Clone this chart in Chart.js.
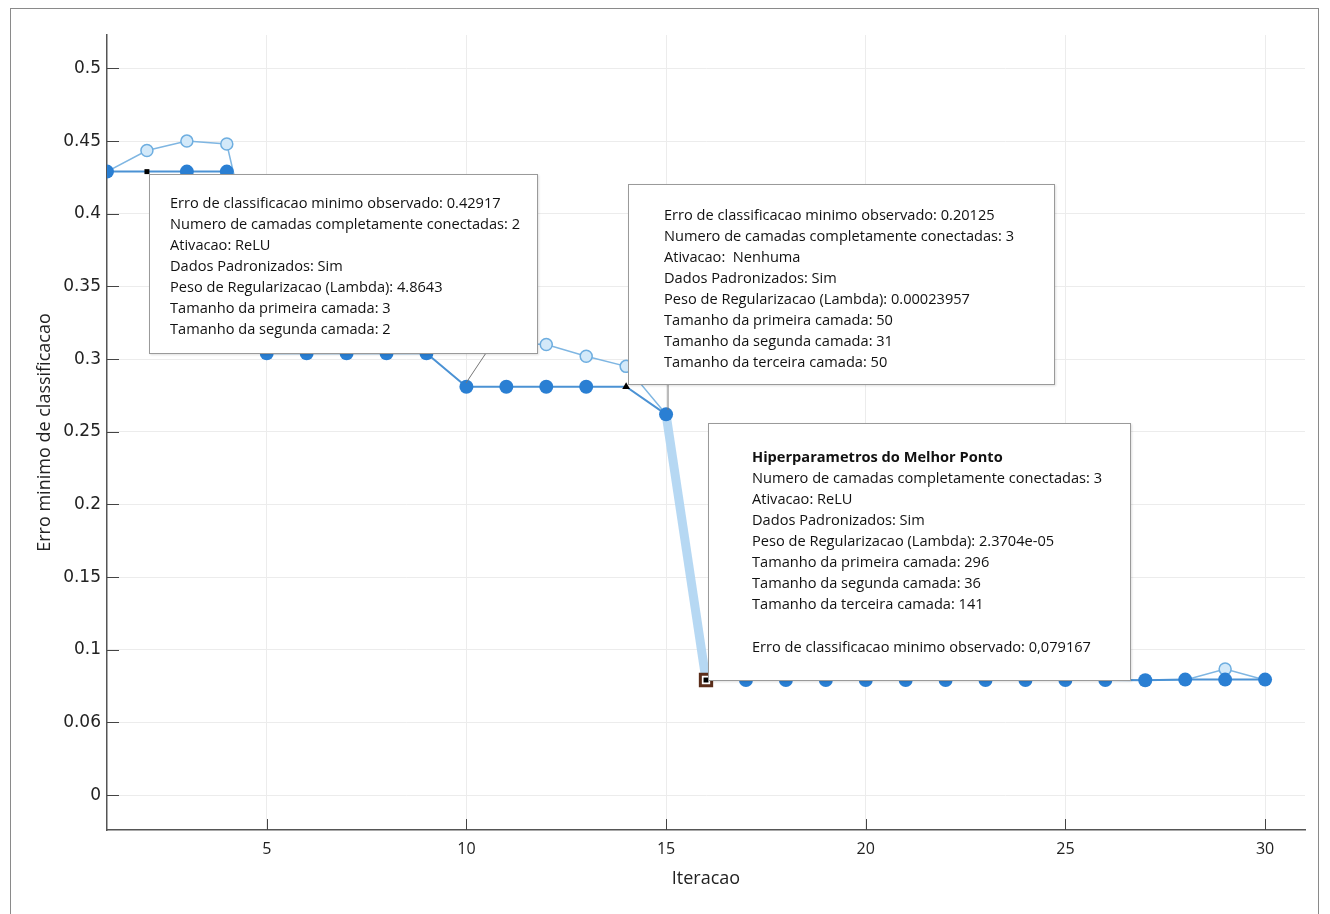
<!DOCTYPE html>
<html>
<head>
<meta charset="utf-8">
<script src="https://cdn.jsdelivr.net/npm/chart.js@4/dist/chart.umd.min.js"></script>
<style>
  html, body { margin: 0; padding: 0; background: #fff; }
  #wrap { position: relative; width: 1330px; height: 914px; overflow: hidden; }
  #frame { position: absolute; left: 10px; top: 8px; width: 1307px; height: 910px; border: 1px solid #8a8a8a; pointer-events: none; }
  canvas { position: absolute; left: 0; top: 0; }
  .box {
    position: absolute; background: #fff; border: 1px solid #9a9a9a;
    box-shadow: 1px 1px 2px rgba(0,0,0,0.12);
    font-family: "Open Sans", "Noto Sans", sans-serif; font-size: 14.6px; line-height: 21px; color: #111;
    box-sizing: border-box; white-space: nowrap;
  }
  .box b { font-weight: 700; }
  #leaders { position: absolute; left: 0; top: 0; }
</style>
</head>
<body>
<div id="wrap">
  <canvas id="chart" width="1330" height="914"></canvas>
  <svg id="leaders" width="1330" height="914">
    <line x1="486" y1="353" x2="466" y2="383" stroke="#777" stroke-width="1"/>
    <line x1="668" y1="384" x2="668" y2="410" stroke="#777" stroke-width="1"/>
  </svg>
  <div class="box" style="left:149px; top:174px; width:389px; height:180px; padding:17px 0 0 20px;">
    Erro de classificacao minimo observado: 0.42917<br>
    Numero de camadas completamente conectadas: 2<br>
    Ativacao: ReLU<br>
    Dados Padronizados: Sim<br>
    Peso de Regularizacao (Lambda): 4.8643<br>
    Tamanho da primeira camada: 3<br>
    Tamanho da segunda camada: 2
  </div>
  <div class="box" style="left:628px; top:184px; width:427px; height:201px; padding:19px 0 0 35px;">
    Erro de classificacao minimo observado: 0.20125<br>
    Numero de camadas completamente conectadas: 3<br>
    Ativacao:&nbsp; Nenhuma<br>
    Dados Padronizados: Sim<br>
    Peso de Regularizacao (Lambda): 0.00023957<br>
    Tamanho da primeira camada: 50<br>
    Tamanho da segunda camada: 31<br>
    Tamanho da terceira camada: 50
  </div>
  <div class="box" style="left:708px; top:423px; width:423px; height:258px; padding:22px 0 0 43px;">
    <b>Hiperparametros do Melhor Ponto</b><br>
    Numero de camadas completamente conectadas: 3<br>
    Ativacao: ReLU<br>
    Dados Padronizados: Sim<br>
    Peso de Regularizacao (Lambda): 2.3704e-05<br>
    Tamanho da primeira camada: 296<br>
    Tamanho da segunda camada: 36<br>
    Tamanho da terceira camada: 141<br>
    <div style="height:22px"></div>
    Erro de classificacao minimo observado: 0,079167
  </div>
  <div id="frame"></div>
</div>
<script>
// Data
const iteracoes = [1, 2, 3, 4, 5, 6, 7, 8, 9, 10, 11, 12, 13, 14, 15,
  16, 17, 18, 19, 20, 21, 22, 23, 24, 25, 26, 27, 28, 29, 30];
const erroObservado = [0.429, 0.429, 0.429, 0.429, 0.304, 0.304, 0.304, 0.304, 0.304, 0.281,
  0.281, 0.281, 0.281, 0.281, 0.262, 0.0792, 0.0792, 0.0792, 0.0792, 0.0792,
  0.0792, 0.0792, 0.0792, 0.0792, 0.0792, 0.0792, 0.079, 0.0795, 0.0795, 0.0795];
const erroEstimado = [0.429, 0.4435, 0.450, 0.448, 0.33, 0.325, 0.32, 0.318, 0.315, 0.312,
  0.311, 0.310, 0.302, 0.295, 0.262, 0.0792, 0.0792, 0.0792, 0.0792, 0.0792,
  0.0792, 0.0792, 0.0792, 0.0792, 0.0792, 0.0792, 0.0792, 0.0792, 0.0868, 0.0792];
const melhorIteracao = [16];
const melhorErro = [0.0792];
const xTickValues = [5, 10, 15, 20, 25, 30];
const yTickValues = [0, 0.05, 0.1, 0.15, 0.2, 0.25, 0.3, 0.35, 0.4, 0.45, 0.5];
const yTickLabels = ['0', '0.06', '0.1', '0.15', '0.2', '0.25', '0.3', '0.35', '0.4', '0.45', '0.5'];

const toPoints = (xs, ys) => xs.map((x, i) => ({ x: x, y: ys[i] }));

// small tick marks drawn inside the plot area
const innerTicks = {
  id: 'innerTicks',
  afterDraw(chart) {
    const ctx = chart.ctx;
    const { left, bottom } = chart.chartArea;
    const xs = chart.scales.x, ys = chart.scales.y;
    ctx.save();
    ctx.strokeStyle = '#444';
    ctx.lineWidth = 1;
    ctx.beginPath();
    yTickValues.forEach(v => {
      const py = Math.round(ys.getPixelForValue(v)) + 0.5;
      ctx.moveTo(left, py); ctx.lineTo(left + 12, py);
    });
    xTickValues.forEach(v => {
      const px = Math.round(xs.getPixelForValue(v)) + 0.5;
      ctx.moveTo(px, bottom); ctx.lineTo(px, bottom - 11);
    });
    ctx.stroke();
    ctx.restore();
  }
};

const darkRadius = iteracoes.map((x, i) => i === 1 ? 3.5 : i === 13 ? 4.5 : i === 15 ? 0 : 7);
const darkStyle = iteracoes.map((x, i) => i === 1 ? 'rect' : i === 13 ? 'triangle' : 'circle');
const darkFill = iteracoes.map((x, i) => (i === 1 || i === 13) ? '#000' : '#2a7fd3');
const lightRadius = iteracoes.map((x, i) => (i >= 1 && i <= 13) || i === 28 ? 6 : 0);

new Chart(document.getElementById('chart'), {
  type: 'line',
  data: {
    datasets: [
      {
        label: 'Melhor ponto (moldura)',
        data: toPoints(melhorIteracao, melhorErro),
        showLine: false,
        pointStyle: 'rect',
        pointRadius: 8,
        pointBackgroundColor: '#fff',
        pointBorderColor: '#5b2d1a',
        pointBorderWidth: 3,
        order: 0
      },
      {
        label: 'Melhor ponto',
        data: toPoints(melhorIteracao, melhorErro),
        showLine: false,
        pointStyle: 'rect',
        pointRadius: 3.5,
        pointBackgroundColor: '#000',
        pointBorderColor: '#000',
        pointBorderWidth: 0,
        order: -1
      },
      {
        label: 'Erro minimo observado',
        data: toPoints(iteracoes, erroObservado),
        borderColor: '#4b92d4',
        borderWidth: 2,
        tension: 0,
        pointStyle: darkStyle,
        pointRadius: darkRadius,
        pointBackgroundColor: darkFill,
        pointBorderColor: darkFill,
        pointBorderWidth: 0,
        segment: {
          borderColor: c => c.p0DataIndex === 14 ? 'rgba(0,0,0,0)' : undefined
        },
        order: 1
      },
      {
        label: 'Erro minimo estimado',
        data: toPoints(iteracoes, erroEstimado),
        borderColor: '#7fb6e2',
        borderWidth: 1.5,
        tension: 0,
        pointRadius: lightRadius,
        pointBackgroundColor: '#d3e9f9',
        pointBorderColor: '#6eaee0',
        pointBorderWidth: 1.5,
        segment: {
          borderWidth: c => c.p0DataIndex === 14 ? 9 : undefined,
          borderColor: c => c.p0DataIndex === 14 ? 'rgba(178,214,242,0.95)' : undefined
        },
        order: 3
      }
    ]
  },
  options: {
    responsive: false,
    animation: false,
    layout: { padding: { left: 0, right: 25, top: 35, bottom: 0 } },
    plugins: { legend: { display: false }, tooltip: { enabled: false } },
    scales: {
      x: {
        type: 'linear',
        min: 1,
        max: 31,
        afterBuildTicks: s => { s.ticks = xTickValues.map(v => ({ value: v })); },
        afterFit: s => { s.height = 84; },
        grid: { color: '#ececec', drawTicks: false },
        border: { color: '#555', width: 1.5 },
        ticks: {
          padding: 10,
          color: '#222',
          font: { family: '"Open Sans", "Noto Sans", sans-serif', size: 16 }
        },
        title: {
          display: true,
          text: 'Iteracao',
          color: '#222',
          font: { family: '"Open Sans", "Noto Sans", sans-serif', size: 18 },
          padding: { top: 0, bottom: 24 }
        }
      },
      y: {
        min: -0.024,
        max: 0.523,
        afterBuildTicks: s => { s.ticks = yTickValues.map(v => ({ value: v })); },
        afterFit: s => { s.width = 107; },
        grid: { color: '#ececec', drawTicks: false },
        border: { color: '#555', width: 1.5 },
        ticks: {
          padding: 6,
          color: '#222',
          font: { family: '"DejaVu Sans", sans-serif', size: 17 },
          callback: (v, i) => yTickLabels[i]
        },
        title: {
          display: true,
          text: 'Erro minimo de classificacao',
          color: '#222',
          font: { family: '"Open Sans", "Noto Sans", sans-serif', size: 18 },
          padding: { top: 34, bottom: 0 }
        }
      }
    }
  },
  plugins: [innerTicks]
});
</script>
</body>
</html>
